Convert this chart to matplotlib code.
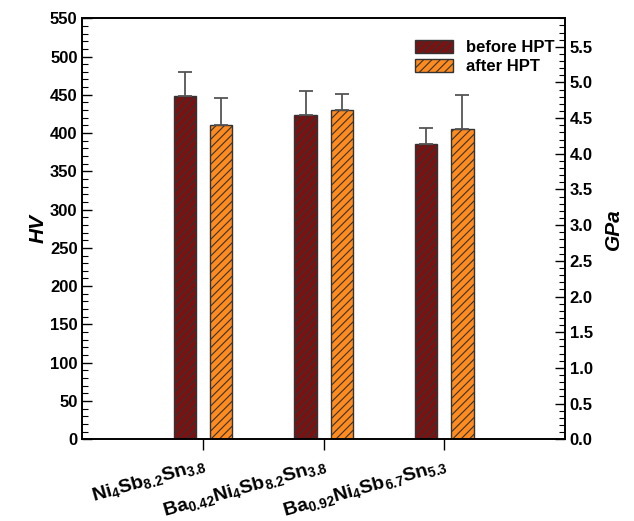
import numpy as np
import matplotlib.pyplot as plt
from matplotlib.ticker import MultipleLocator

plt.rcParams['font.family'] = 'Liberation Sans'
plt.rcParams['font.weight'] = 'bold'
plt.rcParams['mathtext.fontset'] = 'custom'
plt.rcParams['mathtext.rm'] = 'Liberation Sans:bold'
plt.rcParams['mathtext.bf'] = 'Liberation Sans:bold'
plt.rcParams['mathtext.it'] = 'Liberation Sans:bold:italic'
plt.rcParams['hatch.color'] = '#2a1a10'
plt.rcParams['hatch.linewidth'] = 0.8

# data
samples = [r'$\mathbf{Ni_4Sb_{8.2}Sn_{3.8}}$',
           r'$\mathbf{Ba_{0.42}Ni_4Sb_{8.2}Sn_{3.8}}$',
           r'$\mathbf{Ba_{0.92}Ni_4Sb_{6.7}Sn_{5.3}}$']
hv_before = [449, 424, 386]
err_before = [31, 31, 21]
hv_after = [411, 430, 405]
err_after = [35, 21, 45]

x = np.arange(1, len(samples) + 1)
w = 0.185
off = 0.15

fig = plt.figure(figsize=(6.34, 5.21), dpi=100)
ax = fig.add_axes([0.130, 0.157, 0.761, 0.808])

ax.bar(x - off, hv_before, w, color='#7a1212', edgecolor='#333333', linewidth=1,
       hatch='////', label='before HPT')
ax.bar(x + off, hv_after, w, color='#ff8a1e', edgecolor='#333333', linewidth=1,
       hatch='////', label='after HPT')
ax.errorbar(x - off, hv_before, yerr=[[0] * 3, err_before], fmt='none',
            ecolor='#555555', elinewidth=1.3, capsize=5, capthick=1.3)
ax.errorbar(x + off, hv_after, yerr=[[0] * 3, err_after], fmt='none',
            ecolor='#555555', elinewidth=1.3, capsize=5, capthick=1.3)

ax.set_xlim(0, 4)
ax.set_ylim(0, 550)
ax.set_xticks(x)
ax.set_xticklabels(samples, rotation=16, ha='right', va='top',
                   rotation_mode='anchor', fontsize=14)
ax.tick_params(axis='x', direction='out', length=8, width=1, top=False, pad=3)
ax.yaxis.set_major_locator(MultipleLocator(50))
ax.yaxis.set_minor_locator(MultipleLocator(10))
ax.tick_params(axis='y', which='major', direction='in', length=7, width=1, right=False, labelsize=12)
ax.tick_params(axis='y', which='minor', direction='in', length=4, width=0.8, right=False)
ax.set_ylabel('HV', fontsize=15, fontstyle='italic', fontweight='bold', labelpad=2)

ax2 = ax.twinx()
ax2.set_ylim(0, 5.9)
ax2.yaxis.set_major_locator(MultipleLocator(0.5))
ax2.yaxis.set_minor_locator(MultipleLocator(0.1))
ax2.yaxis.set_major_formatter(plt.FuncFormatter(lambda v, p: f'{v:.1f}'))
ax2.tick_params(axis='y', which='major', direction='in', length=7, width=1, labelsize=12)
ax2.tick_params(axis='y', which='minor', direction='in', length=4, width=0.8)
ax2.set_ylabel('GPa', fontsize=15, fontstyle='italic', fontweight='bold', labelpad=8)

for a in (ax, ax2):
    for s in a.spines.values():
        s.set_linewidth(1.2)

ax.legend(loc='upper right', bbox_to_anchor=(1.01, 0.985), frameon=False, fontsize=12,
          handlelength=2.3, handleheight=0.9, handletextpad=0.8, labelspacing=0.2)

fig.savefig('out.png', dpi=100)
